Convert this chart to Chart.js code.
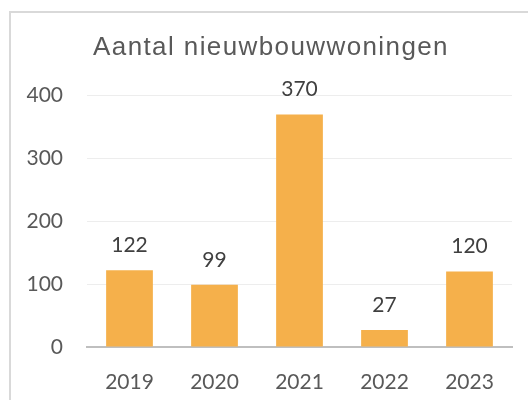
<!DOCTYPE html>
<html>
<head>
<meta charset="utf-8">
<script src="https://cdn.jsdelivr.net/npm/chart.js@4"></script>
<style>
  body { margin: 0; background: #fff; }
  #wrap { position: relative; width: 528px; height: 400px; overflow: hidden; }
  #frame { position: absolute; left: 9px; top: 11px; width: 560px; height: 420px;
           border: 2px solid #D9D9D9; box-sizing: border-box; pointer-events: none; }
</style>
</head>
<body>
<div id="wrap">
  <canvas id="canvas1" width="528" height="400"></canvas>
  <div id="frame"></div>
</div>
<script>
// data
const years = ['2019', '2020', '2021', '2022', '2023'];
const woningen = [122, 99, 370, 27, 120];
const yTicks = [0, 100, 200, 300, 400];
const chartTitle = 'Aantal nieuwbouwwoningen';

const barColor = '#F5B04B';
const tickFont = { family: 'Lato', size: 21 };

// numbers above the bars
const valueLabels = {
    id: 'valueLabels',
    afterDatasetsDraw(chart) {
        const ctx = chart.ctx;
        const meta = chart.getDatasetMeta(0);
        ctx.save();
        ctx.font = '21px Lato';
        ctx.fillStyle = '#404040';
        ctx.textAlign = 'center';
        ctx.textBaseline = 'middle';
        meta.data.forEach((bar, i) => {
            ctx.fillText(woningen[i], bar.x, bar.y - 25);
        });
        ctx.restore();
    }
};

// the title in the picture is spaced out a little and centred on the frame
const spacedTitle = {
    id: 'spacedTitle',
    beforeDraw(chart) {
        const tb = chart.titleBlock;
        if (!tb || tb._spaced) return;
        const orig = tb.draw.bind(tb);
        tb.draw = function () {
            const c = chart.ctx;
            c.save();
            c.translate(8, 0);
            c.letterSpacing = '1.4px';
            orig();
            c.restore();
        };
        tb._spaced = true;
    }
};

const ctx = document.getElementById('canvas1');
const chart1 = new Chart(ctx, {
    type: 'bar',
    data: {
        labels: years,
        datasets: [{
            label: chartTitle,
            data: woningen,
            backgroundColor: barColor,
            borderWidth: 0,
            categoryPercentage: 1,
            barPercentage: 0.55
        }]
    },
    options: {
        responsive: false,
        animation: false,
        layout: { padding: { left: 14, right: 16, top: 0, bottom: 0 } },
        plugins: {
            legend: { display: false },
            tooltip: { enabled: false },
            title: {
                display: true,
                text: chartTitle,
                color: '#595959',
                font: { family: 'Liberation Sans', size: 26, weight: 'normal', lineHeight: 1.2 },
                padding: { top: 32, bottom: 32.4 }
            }
        },
        scales: {
            x: {
                grid: { display: false },
                border: { color: '#BFBFBF', width: 2 },
                ticks: { color: '#595959', font: tickFont, padding: 15 },
                afterFit(scale) { scale.height = 53; }
            },
            y: {
                min: 0,
                max: 400,
                afterBuildTicks(scale) { scale.ticks = yTicks.map(v => ({ value: v })); },
                grid: { color: '#EDEDED', lineWidth: 1, drawTicks: false },
                border: { display: false },
                ticks: { color: '#595959', font: tickFont, padding: 24 },
                afterFit(scale) { scale.width = 73; }
            }
        }
    },
    plugins: [spacedTitle, valueLabels]
});
</script>
</body>
</html>
